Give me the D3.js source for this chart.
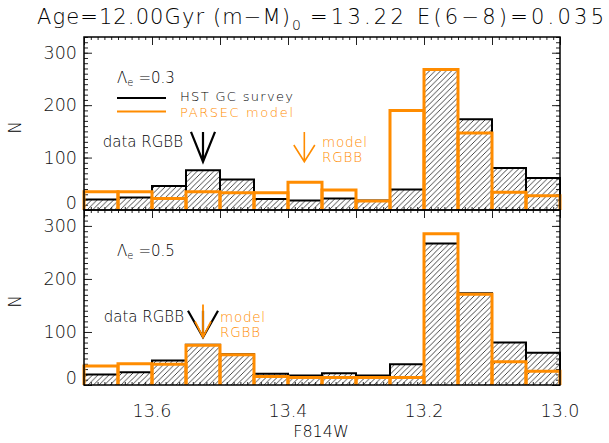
<!DOCTYPE html>
<html><head><meta charset="utf-8">
<script src="https://cdn.jsdelivr.net/npm/d3@7"></script>
<style>body{margin:0;background:#fff} svg{display:block} text{font-family:"DejaVu Sans",sans-serif;font-weight:200}</style>
</head><body><svg id="c" width="609" height="443"></svg>
<script>
// ---- data ----
const binCenters = [13.675,13.625,13.575,13.525,13.475,13.425,13.375,13.325,13.275,13.225,13.175,13.125,13.075,13.025];
const binWidth = 0.05;
const dataCounts        = [20,24,46,76,58,21,18,22,18,39,267,173,80,61];
const modelCountsTop    = [35,35,22,35,33,33,53,38,17,190,268,147,34,27];
const modelCountsBottom = [36,40,39,75,57,16,14,14,14,14,285,171,44,26];
const yTickValues = [0,100,200,300];
const xTickLabels = ["13.6","13.4","13.2","13.0"];
const lambdaLabels = ["=0.3","=0.5"];
const dataRGBB = 13.525;
const modelRGBB = [13.376, 13.525];

const ORANGE = "#ff8c00";
const svg = d3.select("#c");
const x = d3.scaleLinear().domain([13.7, 13.0]).range([84, 560]);

const defs = svg.append("defs");
const pat = defs.append("pattern").attr("id","hatch").attr("patternUnits","userSpaceOnUse")
  .attr("width",5.5).attr("height",5.5);
pat.append("path").attr("d","M-1,1 L1,-1 M0,5.5 L5.5,0 M4.5,6.5 L6.5,4.5")
  .attr("stroke","#333").attr("stroke-width",0.9);

// title
svg.append("text").attr("x",37).attr("y",24).attr("font-size",21)
  .attr("textLength",253).attr("lengthAdjust","spacing").text("Age=12.00Gyr (m\u2212M)");
svg.append("text").attr("x",292).attr("y",30).attr("font-size",14).text("0");
svg.append("text").attr("x",310).attr("y",24).attr("font-size",21)
  .attr("textLength",294).attr("lengthAdjust","spacing").text("=13.22 E(6\u22128)=0.035");

function panel(top, bottom, modelCounts, idx){
  const y = d3.scaleLinear().domain([0,330]).range([bottom, top]);
  const g = svg.append("g");
  // hatch under data histogram
  const areaPts = [];
  binCenters.forEach((c,i)=>{
    areaPts.push([x(c+binWidth/2), y(dataCounts[i])]);
    areaPts.push([x(c-binWidth/2), y(dataCounts[i])]);
  });
  const poly = [[x(binCenters[0]+binWidth/2), y(0)], ...areaPts, [x(binCenters[binCenters.length-1]-binWidth/2), y(0)]];
  g.append("path").attr("d","M"+poly.map(p=>p.join(",")).join("L")+"Z").attr("fill","url(#hatch)");

  // axes ticks
  const yMajL = d3.axisLeft(y).tickValues(yTickValues).tickSize(-8).tickFormat("");
  const yMinL = d3.axisLeft(y).tickValues(d3.range(0,331,10)).tickSize(-4).tickFormat("");
  const yMajR = d3.axisRight(y).tickValues(yTickValues).tickSize(-8).tickFormat("");
  const yMinR = d3.axisRight(y).tickValues(d3.range(0,331,10)).tickSize(-4).tickFormat("");
  const xMajVals = d3.range(0,8).map(k=>13.0+0.1*k);
  const xMinVals = d3.range(0,71).map(k=>13.0+0.01*k);
  const xMajB = d3.axisBottom(x).tickValues(xMajVals).tickSize(-8).tickFormat("");
  const xMinB = d3.axisBottom(x).tickValues(xMinVals).tickSize(-3).tickFormat("");
  const xMajT = d3.axisTop(x).tickValues(xMajVals).tickSize(-8).tickFormat("");
  const xMinT = d3.axisTop(x).tickValues(xMinVals).tickSize(-3).tickFormat("");
  [[yMajL,`translate(84,0)`],[yMinL,`translate(84,0)`],[yMajR,`translate(560,0)`],[yMinR,`translate(560,0)`],
   [xMajB,`translate(0,${bottom})`],[xMinB,`translate(0,${bottom})`],[xMajT,`translate(0,${top})`],[xMinT,`translate(0,${top})`]]
   .forEach(([ax,tr])=>{
     const a = g.append("g").attr("transform",tr).call(ax);
     a.select(".domain").remove();
     a.selectAll("line").attr("stroke","#222").attr("stroke-width",1);
   });

  // y tick labels
  g.selectAll(".ylab").data(yTickValues).enter().append("text")
    .attr("x",77).attr("y",d=>y(d) + (d===0 ? -1 : 6)).attr("text-anchor","end").attr("font-size",17.5)
    .attr("fill","#111").text(d=>d);

  // data histogram outline
  g.selectAll(".dbar").data(binCenters).enter().append("path")
    .attr("d",(c,i)=>`M${x(c-binWidth/2)},${y(0)}V${y(dataCounts[i])}H${x(c+binWidth/2)}V${y(0)}`)
    .attr("fill","none").attr("stroke","#000").attr("stroke-width",2);
  // model histogram
  g.selectAll(".mbar").data(binCenters).enter().append("path")
    .attr("d",(c,i)=>`M${x(c+binWidth/2)},${y(0)}V${y(modelCounts[i])}H${x(c-binWidth/2)}V${y(0)}`)
    .attr("fill","none").attr("stroke",ORANGE).attr("stroke-width",3);

  // frame
  g.append("rect").attr("x",84).attr("y",top).attr("width",476).attr("height",bottom-top)
    .attr("fill","none").attr("stroke","#000").attr("stroke-width",1.5);

  // N label
  g.append("text").attr("transform",`translate(21,${(top+bottom)/2+4}) rotate(-90)`)
    .attr("text-anchor","middle").attr("font-size",17).text("N");

  // Lambda label
  const lt = g.append("text").attr("x",117).attr("y",top+46).attr("font-size",15);
  lt.append("tspan").text("\u039B");
  lt.append("tspan").attr("font-size",10).attr("dy",3).text("e");
  lt.append("tspan").attr("dy",-3).attr("dx",5).text(lambdaLabels[idx]);

  return {g,y};
}

const P1 = panel(37, 210, modelCountsTop, 0);
const P2 = panel(210, 385, modelCountsBottom, 1);

// legend (top panel)
svg.append("line").attr("x1",117).attr("x2",166).attr("y1",98).attr("y2",98).attr("stroke","#000").attr("stroke-width",2);
svg.append("text").attr("x",180).attr("y",101).attr("font-size",13).attr("textLength",113).attr("lengthAdjust","spacing").text("HST GC survey");
svg.append("line").attr("x1",117).attr("x2",166).attr("y1",111.5).attr("y2",111.5).attr("stroke",ORANGE).attr("stroke-width",2);
svg.append("text").attr("x",180).attr("y",116.5).attr("font-size",13).attr("fill",ORANGE).attr("textLength",113).attr("lengthAdjust","spacing").text("PARSEC model");

// arrows
function arrow(g, xm, y0, y1, hw, wingStartY, color, sw){
  const X = x(xm);
  g.append("path").attr("d",`M${X},${y0}V${y1}M${X-hw},${wingStartY}L${X},${y1}L${X+hw},${wingStartY}`)
   .attr("fill","none").attr("stroke",color).attr("stroke-width",sw).attr("stroke-linejoin","miter");
}
// top panel
arrow(P1.g, dataRGBB, P1.y(149), P1.y(92), 12, P1.y(149), "#000", 2.2);
arrow(P1.g, modelRGBB[0], P1.y(149), P1.y(92), 10.5, P1.y(124), ORANGE, 1.6);
P1.g.append("text").attr("x",183).attr("y",147).attr("text-anchor","end").attr("font-size",15).text("data RGBB");
P1.g.append("text").attr("x",322).attr("y",146.5).attr("font-size",13.5).attr("textLength",45).attr("lengthAdjust","spacing").attr("fill",ORANGE).text("model");
P1.g.append("text").attr("x",322).attr("y",162).attr("font-size",13.5).attr("textLength",40).attr("lengthAdjust","spacing").attr("fill",ORANGE).text("RGBB");
// bottom panel
arrow(P2.g, dataRGBB, P2.y(140), P2.y(90), 15, P2.y(140), "#000", 2.2);
arrow(P2.g, modelRGBB[1], P2.y(152), P2.y(90), 8, P2.y(120), ORANGE, 1.8);
P2.g.append("text").attr("x",184).attr("y",322).attr("text-anchor","end").attr("font-size",15).text("data RGBB");
P2.g.append("text").attr("x",220).attr("y",321.5).attr("font-size",13.5).attr("textLength",45).attr("lengthAdjust","spacing").attr("fill",ORANGE).text("model");
P2.g.append("text").attr("x",220).attr("y",337).attr("font-size",13.5).attr("textLength",40).attr("lengthAdjust","spacing").attr("fill",ORANGE).text("RGBB");

// x tick labels and title
svg.selectAll(".xlab").data(xTickLabels).enter().append("text")
  .attr("x",d=>x(+d)).attr("y",417).attr("text-anchor","middle").attr("font-size",17.5).attr("fill","#111").text(d=>d);
svg.append("text").attr("x",321).attr("y",437).attr("text-anchor","middle").attr("font-size",16).text("F814W");
</script></body></html>
